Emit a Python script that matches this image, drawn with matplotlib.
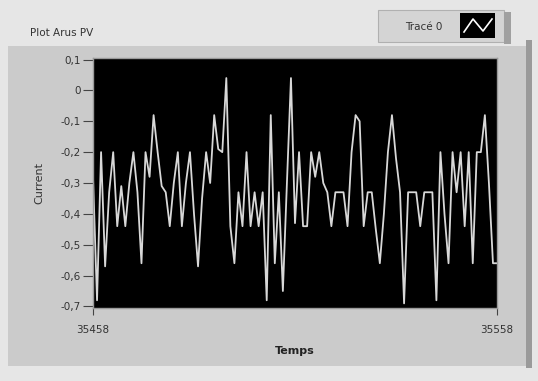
import matplotlib
matplotlib.use("Agg")
import matplotlib.pyplot as plt
from matplotlib.patches import Rectangle
import numpy as np

x_start = 35458
x_end = 35558
current = [
    -0.28, -0.68, -0.20, -0.57, -0.33, -0.20, -0.44, -0.31, -0.44, -0.30,
    -0.20, -0.33, -0.56, -0.20, -0.28, -0.08, -0.20, -0.31, -0.33, -0.44,
    -0.30, -0.20, -0.44, -0.30, -0.20, -0.40, -0.57, -0.35, -0.20, -0.30,
    -0.08, -0.19, -0.20, 0.04, -0.44, -0.56, -0.33, -0.44, -0.20, -0.44,
    -0.33, -0.44, -0.33, -0.68, -0.08, -0.56, -0.33, -0.65, -0.30, 0.04,
    -0.43, -0.20, -0.44, -0.44, -0.20, -0.28, -0.20, -0.30, -0.33, -0.44,
    -0.33, -0.33, -0.33, -0.44, -0.20, -0.08, -0.10, -0.44, -0.33, -0.33,
    -0.45, -0.56, -0.40, -0.20, -0.08, -0.22, -0.33, -0.69, -0.33, -0.33,
    -0.33, -0.44, -0.33, -0.33, -0.33, -0.68, -0.20, -0.40, -0.56, -0.20,
    -0.33, -0.20, -0.44, -0.20, -0.56, -0.20, -0.20, -0.08, -0.30, -0.56,
    -0.56,
]
y_ticks = [0.1, 0.0, -0.1, -0.2, -0.3, -0.4, -0.5, -0.6, -0.7]
y_tick_labels = ["0,1", "0", "-0,1", "-0,2", "-0,3", "-0,4", "-0,5", "-0,6", "-0,7"]
x_ticks = [35458, 35558]
x_tick_labels = ["35458", "35558"]
title = "Plot Arus PV"
legend_label = "Tracé 0"
x_label = "Temps"
y_label = "Current"

plt.rcParams['font.family'] = ['DejaVu Sans']
W, H = 538, 381
fig = plt.figure(figsize=(W / 100, H / 100), dpi=100)
fig.patch.set_facecolor('#e6e6e6')

def fr(x0, y0, x1, y1):
    return (x0 / W, 1 - y1 / H, (x1 - x0) / W, (y1 - y0) / H)

# panel background
x0, y0, w, h = fr(8, 46, 526, 366)
fig.patches.append(Rectangle((x0, y0), w, h, transform=fig.transFigure,
                             facecolor='#cbcbcb', edgecolor='none', zorder=0))
x0, y0, w, h = fr(526, 40, 532, 368)
fig.patches.append(Rectangle((x0, y0), w, h, transform=fig.transFigure,
                             facecolor='#9a9a9a', edgecolor='none', zorder=0))
# legend box
x0, y0, w, h = fr(378, 10, 504, 42)
fig.patches.append(Rectangle((x0, y0), w, h, transform=fig.transFigure,
                             facecolor='#d4d4d4', edgecolor='#b0b0b0', lw=0.8, zorder=1))
x0, y0, w, h = fr(504, 12, 511, 44)
fig.patches.append(Rectangle((x0, y0), w, h, transform=fig.transFigure,
                             facecolor='#a0a0a0', edgecolor='none', zorder=1))
x0, y0, w, h = fr(460, 13, 495, 38)
fig.patches.append(Rectangle((x0, y0), w, h, transform=fig.transFigure,
                             facecolor='black', edgecolor='none', zorder=2))
fig.add_artist(plt.Line2D([464 / W, 473 / W, 483 / W, 492 / W],
                          [1 - 32 / H, 1 - 19 / H, 1 - 31 / H, 1 - 19 / H],
                          transform=fig.transFigure, color='white', lw=1.2, zorder=3))
fig.text(424 / W, 1 - 27 / H, legend_label, ha='center', va='center', fontsize=7.5,
         color='#333333')
fig.text(30 / W, 1 - 33 / H, title, ha='left', va='center', fontsize=7.5, color='#333333')

ax = fig.add_axes(fr(93, 58, 497, 308))
ax.set_zorder(5)
ax.set_facecolor('black')
xs = np.arange(x_start, x_start + len(current))
ax.plot(xs, current, color='#d8d8d8', lw=1.3)
ax.set_xlim(x_start, x_end)
ax.set_ylim(-0.705, 0.105)
ax.set_yticks(y_ticks)
ax.set_yticklabels(y_tick_labels)
ax.set_xticks(x_ticks)
ax.set_xticklabels(x_tick_labels)
ax.tick_params(axis='y', colors='#444444', labelsize=7.5, length=7, width=0.8, pad=1.5,
               labelcolor='#333333')
ax.tick_params(axis='x', colors='#444444', labelsize=7.5, length=5, width=0.8, pad=7,
               labelcolor='#333333')
for s in ax.spines.values():
    s.set_color('#9a9a9a')
    s.set_linewidth(1.0)
ax.set_xlabel(x_label, fontsize=8, color='#222222', fontweight='bold', labelpad=8)
ax.set_ylabel(y_label, fontsize=8, color='#333333', labelpad=12)

fig.savefig('out.png', dpi=100, facecolor=fig.get_facecolor())
